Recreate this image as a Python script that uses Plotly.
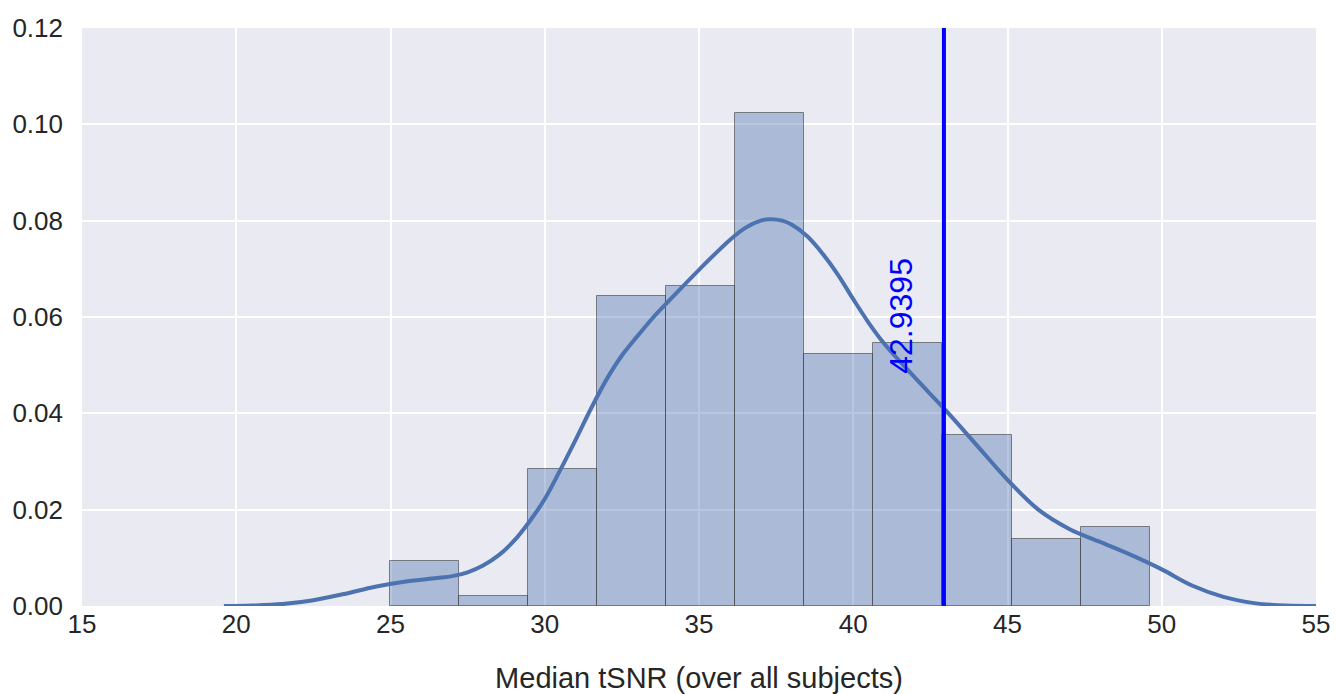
import plotly.graph_objects as go

# Histogram bins (edges) and density heights
bin_edges = [24.97, 27.21, 29.45, 31.69, 33.93, 36.17, 38.41, 40.65, 42.89, 45.13, 47.37, 49.61]
bin_heights = [0.0093, 0.0021, 0.0284, 0.0644, 0.0665, 0.1023, 0.0524, 0.0546, 0.0356, 0.0140, 0.0165]

# KDE curve sample points
kde_x = [19.6, 20.5, 21.5, 22.5, 23.5, 24.5, 25.5, 26.5, 27.0, 27.5, 28.0, 28.5, 29.0, 29.5, 30.0,
         30.5, 31.0, 31.5, 32.0, 32.5, 33.0, 33.5, 34.0, 35.0, 36.0, 36.5, 37.0, 37.3, 37.7, 38.0,
         38.5, 39.0, 39.5, 40.0, 40.5, 41.0, 42.0, 43.0, 44.0, 45.0, 46.0, 47.0, 48.0, 49.0, 50.0,
         51.0, 52.0, 53.0, 54.0, 55.0]
kde_y = [0.0, 0.0001, 0.0004, 0.0012, 0.0025, 0.0040, 0.0051, 0.0058, 0.0062, 0.0070, 0.0084, 0.0105,
         0.0135, 0.0175, 0.0222, 0.0282, 0.0345, 0.0410, 0.0470, 0.0520, 0.0560, 0.0598, 0.0632, 0.0698,
         0.0760, 0.0785, 0.0800, 0.0803, 0.0800, 0.0792, 0.0768, 0.0732, 0.0688, 0.0637, 0.0588, 0.0545,
         0.0474, 0.0406, 0.0334, 0.0262, 0.0200, 0.0160, 0.0133, 0.0106, 0.0076, 0.0042, 0.0019, 0.0006,
         0.0001, 0.0]

median_value = 42.9395
x_ticks = [15, 20, 25, 30, 35, 40, 45, 50, 55]
y_ticks = [0.00, 0.02, 0.04, 0.06, 0.08, 0.10, 0.12]

centers = [(bin_edges[i] + bin_edges[i + 1]) / 2 for i in range(len(bin_heights))]
widths = [bin_edges[i + 1] - bin_edges[i] for i in range(len(bin_heights))]

FONT = "Liberation Sans, Arial, Helvetica"

fig = go.Figure()
fig.add_trace(go.Bar(
    x=centers, y=bin_heights, width=widths,
    marker=dict(color="rgba(76,114,176,0.4)", line=dict(color="rgba(60,60,60,0.6)", width=1)),
    showlegend=False, hoverinfo="skip",
))
fig.add_trace(go.Scatter(
    x=kde_x, y=kde_y, mode="lines", line=dict(color="#4C72B0", width=4, shape="spline"),
    showlegend=False,
))
fig.add_shape(type="line", x0=median_value, x1=median_value, y0=0, y1=0.12,
              xref="x", yref="y", line=dict(color="blue", width=4))
fig.add_annotation(x=median_value, y=0.048, xref="x", yref="y", text=f"{median_value:.4f}",
                   textangle=-90, showarrow=False, xanchor="right", yanchor="bottom", xshift=-24,
                   borderpad=0,
                   font=dict(color="blue", size=32, family=FONT))

fig.update_layout(
    width=1336, height=694,
    margin=dict(l=82, r=20, t=28, b=88, autoexpand=False),
    paper_bgcolor="white", plot_bgcolor="#EAEAF2",
    font=dict(family=FONT, size=26, color="#262626"),
    bargap=0,
    xaxis=dict(range=[15, 55], tickvals=x_ticks, showgrid=True, gridcolor="white", gridwidth=2,
               zeroline=False, showline=False, ticks="", tickfont=dict(size=26),
               ticklabeloverflow="allow", automargin=False,
               title=dict(text="Median tSNR (over all subjects)", font=dict(size=29), standoff=29)),
    yaxis=dict(range=[0, 0.12], tickvals=y_ticks, tickformat=".2f", showgrid=True, gridcolor="white",
               gridwidth=2, zeroline=False, showline=False, ticks="", tickfont=dict(size=26),
               ticklabelstandoff=18, automargin=False),
)
fig.write_html("out.html", config={"displayModeBar": False},
               post_script="document.body.style.margin='0px';document.body.style.overflow='hidden';")
